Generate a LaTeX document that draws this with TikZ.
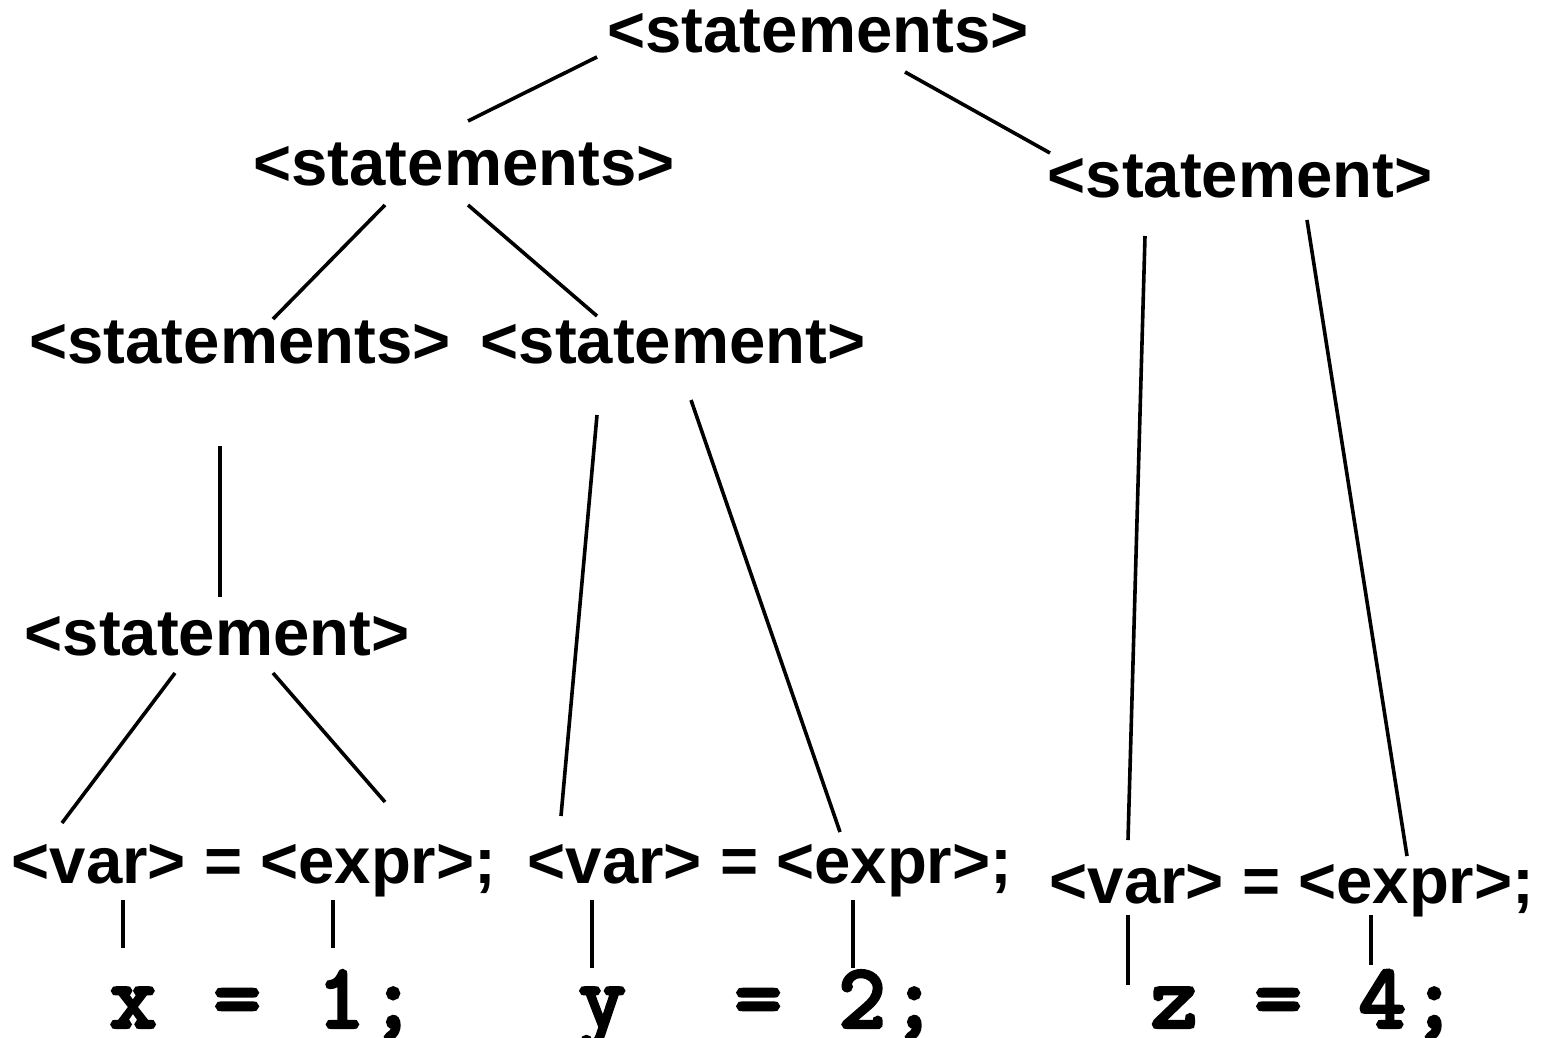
\documentclass[tikz,border=0pt]{standalone}
\usepackage{fontspec}
\setmainfont{Liberation Sans}
\newfontfamily\monob[FakeBold=4.5]{Latin Modern Mono}
\newcommand\mcell[1]{\makebox[52pt][c]{#1}}
\begin{document}
\begin{tikzpicture}[x=1pt,y=-1pt,
  nt/.style={inner sep=0pt,anchor=base,font=\fontsize{65.3}{70}\selectfont\bfseries},
  term/.style={inner sep=0pt,anchor=base west,font=\fontsize{90}{95}\selectfont\monob},
  edge/.style={line width=3.6pt}]
\useasboundingbox[fill=white] (0,0) rectangle (1541,1037);
% nonterminal nodes
\node[nt] (s0) at (818,52) {<statements>};
\node[nt] (s1) at (464,185) {<statements>};
\node[nt] (t1) at (1240,197) {<statement>};
\node[nt] (s2) at (240,363) {<statements>};
\node[nt] (t2) at (673,363) {<statement>};
\node[nt] (t3) at (217,655) {<statement>};
\node[nt] (a1) at (254,883) {<var> = <expr>;};
\node[nt] (a2) at (770,883) {<var> = <expr>;};
\node[nt] (a3) at (1292,903) {<var> = <expr>;};
% terminal nodes
\node[term] (c1) at (107,1027) {\mcell{x}\mcell{ }\mcell{=}\mcell{ }\mcell{1}\mcell{;}};
\node[term] (c2) at (576,1027) {\mcell{y}\mcell{ }\mcell{ }\mcell{=}\mcell{ }\mcell{2}\mcell{;}};
\node[term] (c3) at (1148,1027) {\mcell{z}\mcell{ }\mcell{=}\mcell{ }\mcell{4}\mcell{;}};
% connector end points
\coordinate (s0a) at (597,57);  \coordinate (s1a) at (468,121);
\coordinate (s0b) at (905,72);  \coordinate (t1a) at (1050,153);
\coordinate (s1b) at (385,205); \coordinate (s2a) at (273,319);
\coordinate (s1c) at (468,205); \coordinate (t2a) at (597,316);
\coordinate (s2b) at (220,446); \coordinate (t3a) at (220,597);
\coordinate (t2b) at (597,415); \coordinate (a2v) at (561,816);
\coordinate (t2c) at (691,400); \coordinate (a2e) at (840,832);
\coordinate (t3b) at (175,673); \coordinate (a1v) at (62,823);
\coordinate (t3c) at (273,673); \coordinate (a1e) at (385,802);
\coordinate (t1b) at (1145,236); \coordinate (a3v) at (1128,840);
\coordinate (t1c) at (1307,220); \coordinate (a3e) at (1407,856);
\coordinate (a1vb) at (123,900); \coordinate (c1v) at (123,948);
\coordinate (a1eb) at (333,900); \coordinate (c1e) at (333,948);
\coordinate (a2vb) at (592,900); \coordinate (c2v) at (592,968);
\coordinate (a2eb) at (853,900); \coordinate (c2e) at (853,968);
\coordinate (a3vb) at (1128,915); \coordinate (c3v) at (1128,985);
\coordinate (a3eb) at (1371,915); \coordinate (c3e) at (1371,965);
% connectors
\draw[edge] (s0a) -- (s1a);
\draw[edge] (s0b) -- (t1a);
\draw[edge] (s1b) -- (s2a);
\draw[edge] (s1c) -- (t2a);
\draw[edge] (s2b) -- (t3a);
\draw[edge] (t2b) -- (a2v);
\draw[edge] (t2c) -- (a2e);
\draw[edge] (t3b) -- (a1v);
\draw[edge] (t3c) -- (a1e);
\draw[edge] (t1b) -- (a3v);
\draw[edge] (t1c) -- (a3e);
\draw[edge] (a1vb) -- (c1v);
\draw[edge] (a1eb) -- (c1e);
\draw[edge] (a2vb) -- (c2v);
\draw[edge] (a2eb) -- (c2e);
\draw[edge] (a3vb) -- (c3v);
\draw[edge] (a3eb) -- (c3e);
\end{tikzpicture}
\end{document}
